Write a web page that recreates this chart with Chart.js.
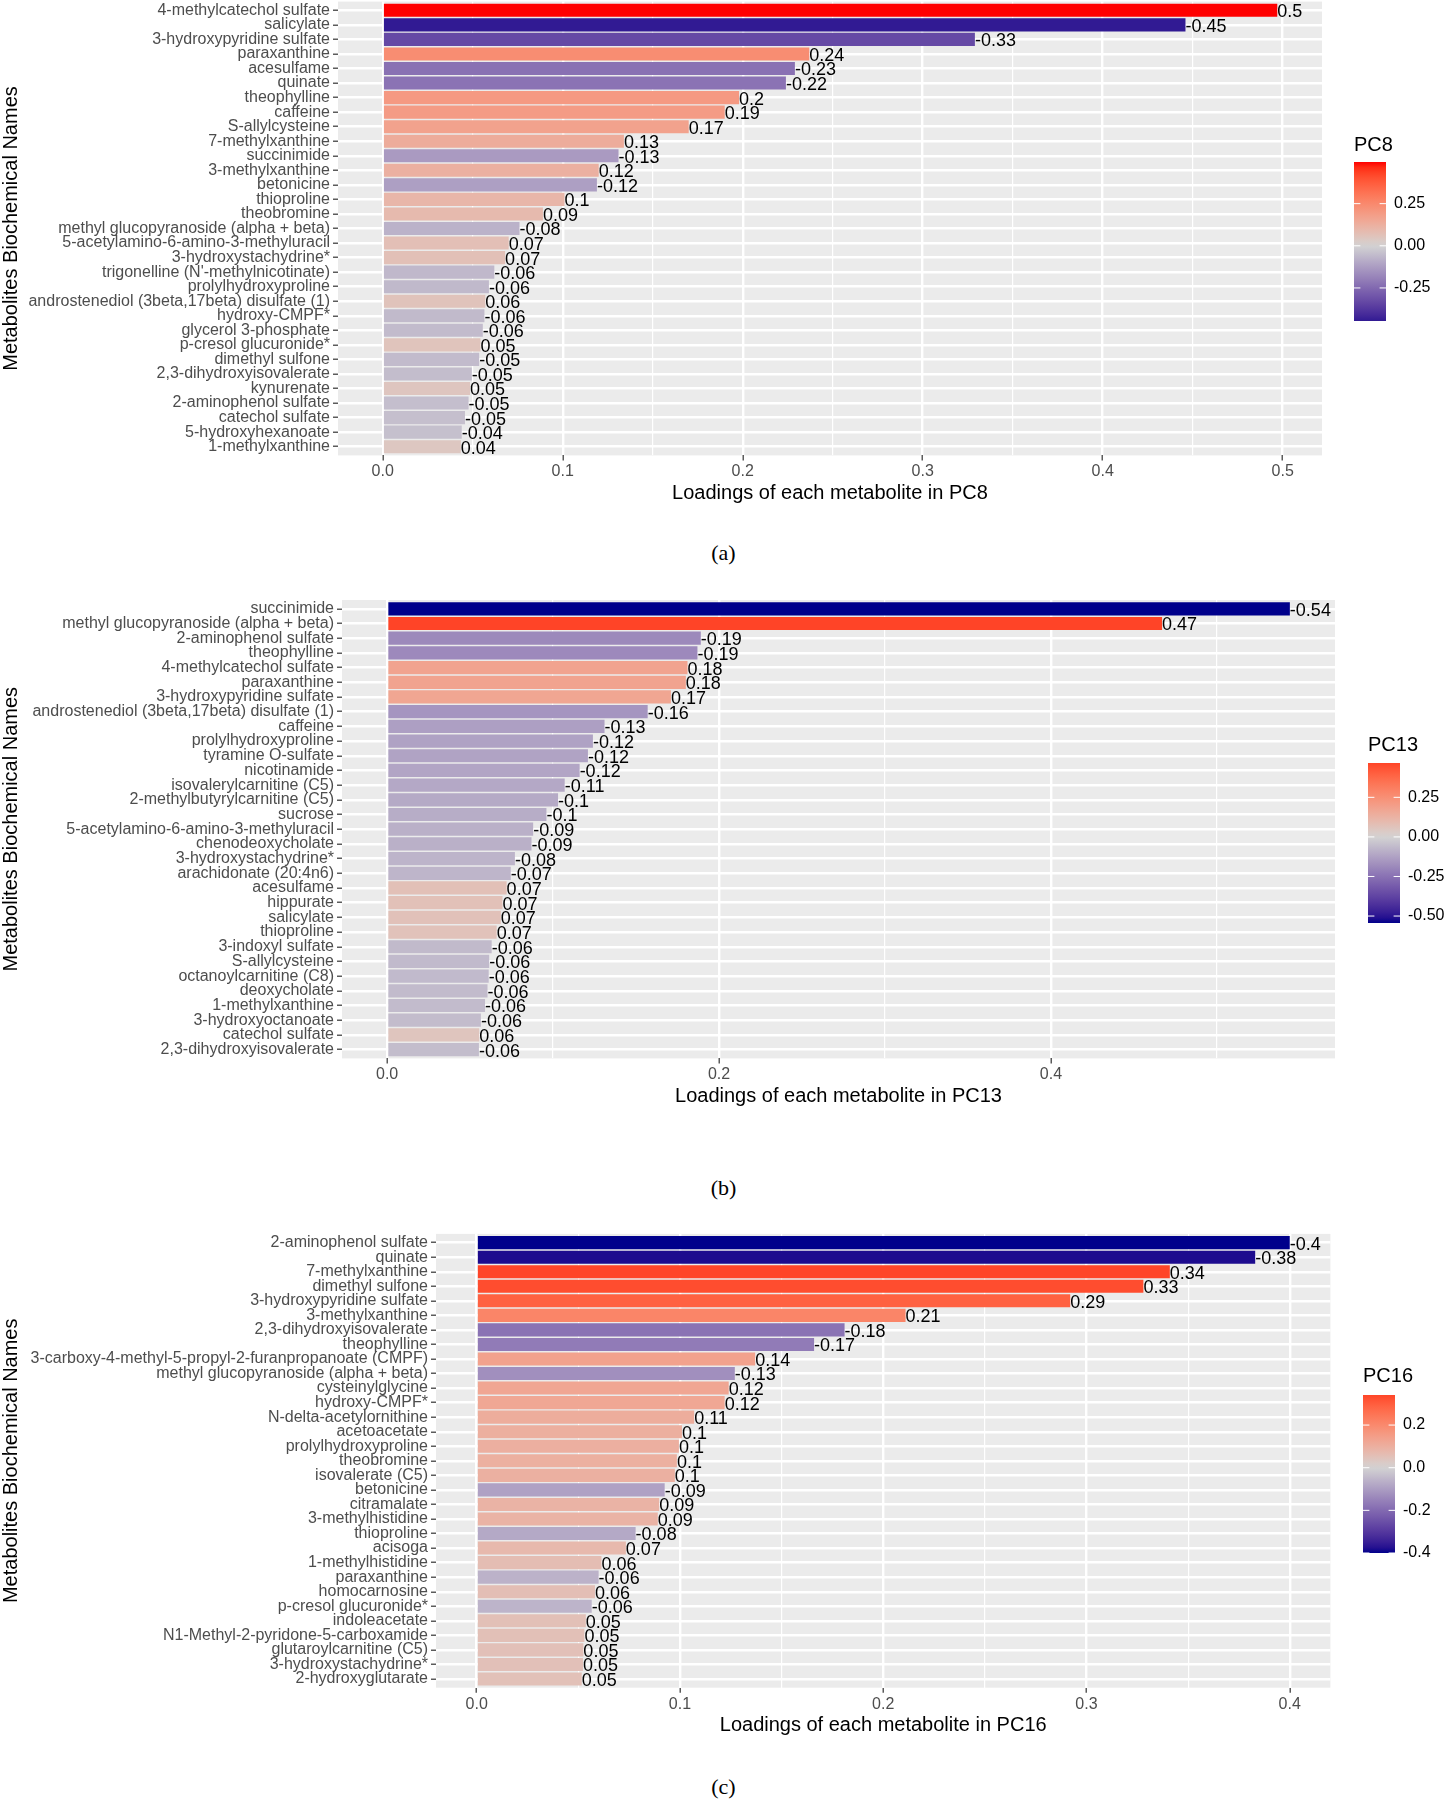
<!DOCTYPE html>
<html>
<head>
<meta charset="utf-8">
<script src="https://cdn.jsdelivr.net/npm/chart.js@4.4.1/dist/chart.umd.min.js"></script>
<style>
  body { margin: 0; background: #fff; width: 1447px; height: 1800px; position: relative; overflow: hidden; }
  canvas { position: absolute; left: 0; }
  .cap { position: absolute; left: 0; width: 1447px; text-align: center; font: 22px "Liberation Serif", "Times New Roman", serif; color: #000; }
</style>
</head>
<body>
<canvas id="pc8"></canvas>
<canvas id="pc13"></canvas>
<canvas id="pc16"></canvas>
<div class="cap" style="top:540px">(a)</div>
<div class="cap" style="top:1175px">(b)</div>
<div class="cap" style="top:1774px">(c)</div>
<script>
// PC8 loadings (signed), sorted by absolute value
const names8 = ["4-methylcatechol sulfate", "salicylate", "3-hydroxypyridine sulfate", "paraxanthine", "acesulfame",
  "quinate", "theophylline", "caffeine", "S-allylcysteine", "7-methylxanthine", "succinimide", "3-methylxanthine",
  "betonicine", "thioproline", "theobromine", "methyl glucopyranoside (alpha + beta)",
  "5-acetylamino-6-amino-3-methyluracil", "3-hydroxystachydrine*", "trigonelline (N'-methylnicotinate)",
  "prolylhydroxyproline", "androstenediol (3beta,17beta) disulfate (1)", "hydroxy-CMPF*", "glycerol 3-phosphate",
  "p-cresol glucuronide*", "dimethyl sulfone", "2,3-dihydroxyisovalerate", "kynurenate", "2-aminophenol sulfate",
  "catechol sulfate", "5-hydroxyhexanoate", "1-methylxanthine"];
const load8 = [0.497, -0.446, -0.329, 0.237, -0.229, -0.224, 0.198, 0.190, 0.170, 0.134, -0.131, 0.120,
  -0.119, 0.101, 0.089, -0.076, 0.070, 0.068, -0.062, -0.059, 0.057, -0.0565, -0.0556, 0.0543, -0.0536,
  -0.0495, 0.0485, -0.0477, -0.0457, -0.0439, 0.0434];
const ticks8 = [0, 0.1, 0.2, 0.3, 0.4, 0.5];
const legend8 = [0.25, 0, -0.25];

// PC13
const names13 = ["succinimide", "methyl glucopyranoside (alpha + beta)", "2-aminophenol sulfate", "theophylline",
  "4-methylcatechol sulfate", "paraxanthine", "3-hydroxypyridine sulfate", "androstenediol (3beta,17beta) disulfate (1)",
  "caffeine", "prolylhydroxyproline", "tyramine O-sulfate", "nicotinamide", "isovalerylcarnitine (C5)",
  "2-methylbutyrylcarnitine (C5)", "sucrose", "5-acetylamino-6-amino-3-methyluracil", "chenodeoxycholate",
  "3-hydroxystachydrine*", "arachidonate (20:4n6)", "acesulfame", "hippurate", "salicylate", "thioproline",
  "3-indoxyl sulfate", "S-allylcysteine", "octanoylcarnitine (C8)", "deoxycholate", "1-methylxanthine",
  "3-hydroxyoctanoate", "catechol sulfate", "2,3-dihydroxyisovalerate"];
const load13 = [-0.544, 0.467, -0.189, -0.187, 0.181, 0.180, 0.171, -0.157, -0.131, -0.124, -0.121, -0.116,
  -0.107, -0.103, -0.096, -0.088, -0.087, -0.077, -0.0745, 0.072, 0.0695, 0.0685, 0.066, -0.063, -0.0615,
  -0.0612, -0.0605, -0.059, -0.0565, 0.0555, -0.0553];
const ticks13 = [0, 0.2, 0.4];
const legend13 = [0.25, 0, -0.25, -0.5];

// PC16
const names16 = ["2-aminophenol sulfate", "quinate", "7-methylxanthine", "dimethyl sulfone", "3-hydroxypyridine sulfate",
  "3-methylxanthine", "2,3-dihydroxyisovalerate", "theophylline", "3-carboxy-4-methyl-5-propyl-2-furanpropanoate (CMPF)",
  "methyl glucopyranoside (alpha + beta)", "cysteinylglycine", "hydroxy-CMPF*", "N-delta-acetylornithine",
  "acetoacetate", "prolylhydroxyproline", "theobromine", "isovalerate (C5)", "betonicine", "citramalate",
  "3-methylhistidine", "thioproline", "acisoga", "1-methylhistidine", "paraxanthine", "homocarnosine",
  "p-cresol glucuronide*", "indoleacetate", "N1-Methyl-2-pyridone-5-carboxamide", "glutaroylcarnitine (C5)",
  "3-hydroxystachydrine*", "2-hydroxyglutarate"];
const load16 = [-0.4, -0.383, 0.341, 0.328, 0.292, 0.211, -0.181, -0.166, 0.137, -0.127, 0.124, 0.122, 0.107,
  0.101, 0.0995, 0.0985, 0.0975, -0.0925, 0.0898, 0.0891, -0.0782, 0.0734, 0.0614, -0.060, 0.0582, -0.0566,
  0.0537, 0.053, 0.0525, 0.0523, 0.0517];
const ticks16 = [0, 0.1, 0.2, 0.3, 0.4];
const legend16 = [0.2, 0, -0.2, -0.4];

const FONT = '"Liberation Sans", Arial, sans-serif';
const lowCol = "#00008B", midCol = "#D3D3D3", highCol = "#FF0000";

// gradient2 style colours, mixed in Lab like ggplot does
function toLab(hex) {
  const c = [1, 3, 5].map(i => parseInt(hex.slice(i, i + 2), 16) / 255)
    .map(v => v <= 0.04045 ? v / 12.92 : Math.pow((v + 0.055) / 1.055, 2.4));
  const x = (c[0] * 0.4124 + c[1] * 0.3576 + c[2] * 0.1805) / 0.95047;
  const y = c[0] * 0.2126 + c[1] * 0.7152 + c[2] * 0.0722;
  const z = (c[0] * 0.0193 + c[1] * 0.1192 + c[2] * 0.9505) / 1.08883;
  const f = t => t > 0.008856 ? Math.cbrt(t) : 7.787 * t + 16 / 116;
  return [116 * f(y) - 16, 500 * (f(x) - f(y)), 200 * (f(y) - f(z))];
}
function fromLab(lab) {
  const fy = (lab[0] + 16) / 116, fx = fy + lab[1] / 500, fz = fy - lab[2] / 200;
  const inv = t => t * t * t > 0.008856 ? t * t * t : (t - 16 / 116) / 7.787;
  const x = inv(fx) * 0.95047, y = inv(fy), z = inv(fz) * 1.08883;
  const lin = [x * 3.2406 - y * 1.5372 - z * 0.4986, -x * 0.9689 + y * 1.8758 + z * 0.0415, x * 0.0557 - y * 0.2040 + z * 1.0570];
  return "rgb(" + lin.map(v => {
    v = v <= 0.0031308 ? 12.92 * v : 1.055 * Math.pow(v, 1 / 2.4) - 0.055;
    return Math.round(Math.min(1, Math.max(0, v)) * 255);
  }).join(",") + ")";
}
const labLow = toLab(lowCol), labMid = toLab(midCol), labHigh = toLab(highCol);
function fillFor(v, maxAbs) {
  const t = v / (2 * maxAbs) + 0.5;
  const a = t < 0.5 ? labLow : labMid, b = t < 0.5 ? labMid : labHigh;
  const k = t < 0.5 ? t / 0.5 : (t - 0.5) / 0.5;
  return fromLab(a.map((c, j) => c + (b[j] - c) * k));
}
const fmt = v => String(Math.round(v * 100) / 100);

function makePanel(id, o) {
  const canvas = document.getElementById(id);
  canvas.width = 1447;
  canvas.height = o.height;
  canvas.style.top = o.top + "px";

  const n = o.names.length;
  const maxAbs = Math.max(...o.values.map(Math.abs));
  const vmin = Math.min(...o.values), vmax = Math.max(...o.values);
  const xmin = -0.05 * maxAbs, xmax = 1.05 * maxAbs;
  const step = o.ticks[1] - o.ticks[0];
  const isMajor = v => o.ticks.some(t => Math.abs(t - v) < 1e-9);
  let xticks = [];
  for (let v = o.ticks[0] - step / 2; v <= xmax; v += step / 2) {
    if (v >= xmin) xticks.push(Math.round(v * 1e6) / 1e6);
  }

  const decor = {
    id: "decor",
    beforeDraw(chart) {
      const a = chart.chartArea, ctx = chart.ctx;
      ctx.save();
      ctx.fillStyle = "#EBEBEB";
      ctx.fillRect(a.left, a.top, a.right - a.left, a.bottom - a.top);
      ctx.restore();
    },
    afterDatasetsDraw(chart) {
      const ctx = chart.ctx;
      ctx.save();
      ctx.font = "18px " + FONT;
      ctx.fillStyle = "#000";
      ctx.textAlign = "left";
      ctx.textBaseline = "middle";
      chart.getDatasetMeta(0).data.forEach((bar, i) => ctx.fillText(fmt(o.values[i]), bar.x, bar.y + 2));
      ctx.restore();
    },
    afterDraw(chart) {
      // colourbar legend
      const ctx = chart.ctx, L = o.legend;
      const top = L.top - o.top, bot = L.bottom - o.top, h = bot - top;
      ctx.save();
      ctx.font = "20px " + FONT;
      ctx.fillStyle = "#000";
      ctx.textBaseline = "middle";
      ctx.fillText(o.pc, L.x, L.titleY - o.top);
      const g = ctx.createLinearGradient(0, top, 0, bot);
      for (let k = 0; k <= 30; k++) {
        g.addColorStop(k / 30, fillFor(vmax - (vmax - vmin) * k / 30, maxAbs));
      }
      ctx.fillStyle = g;
      ctx.fillRect(L.x, top, L.w, h);
      ctx.font = "16px " + FONT;
      ctx.strokeStyle = "#fff";
      ctx.lineWidth = 1;
      o.breaks.forEach(b => {
        const y = top + (vmax - b) / (vmax - vmin) * h;
        ctx.beginPath();
        ctx.moveTo(L.x, y); ctx.lineTo(L.x + L.w / 5, y);
        ctx.moveTo(L.x + L.w * 4 / 5, y); ctx.lineTo(L.x + L.w, y);
        ctx.stroke();
        ctx.fillStyle = "#000";
        ctx.fillText(b.toFixed(o.dec), L.x + L.w + 8, y);
      });
      ctx.restore();
    }
  };

  new Chart(canvas, {
    type: "bar",
    data: {
      datasets: [{
        data: o.values.map((v, i) => ({ x: Math.abs(v), y: i })),
        backgroundColor: o.values.map(v => fillFor(v, maxAbs)),
        barPercentage: 0.9,
        categoryPercentage: 1
      }]
    },
    options: {
      indexAxis: "y",
      responsive: false,
      animation: false,
      layout: {
        padding: { left: 0, right: 1447 - o.area.right, top: o.area.top - o.top, bottom: o.top + o.height - o.area.bottom - 50 }
      },
      plugins: { legend: { display: false }, tooltip: { enabled: false } },
      scales: {
        x: {
          type: "linear",
          min: xmin,
          max: xmax,
          afterBuildTicks: s => { s.ticks = xticks.map(v => ({ value: v })); },
          afterFit: s => { s.height = 50; s.paddingLeft = 0; s.paddingRight = 0; },
          border: { display: false },
          grid: {
            color: "#fff",
            lineWidth: c => isMajor(c.tick.value) ? 2.4 : 1.2,
            tickColor: c => isMajor(c.tick.value) ? "#333" : "rgba(0,0,0,0)",
            tickLength: 5,
            tickWidth: 1.2
          },
          ticks: {
            callback: v => isMajor(v) ? v.toFixed(1) : "",
            color: "#4D4D4D",
            font: { size: 16, family: FONT },
            padding: 2,
            autoSkip: false,
            maxRotation: 0
          },
          title: { display: true, text: "Loadings of each metabolite in " + o.pc, color: "#000", font: { size: 20, family: FONT }, padding: 0 }
        },
        y: {
          type: "linear",
          offset: false,
          min: -0.6,
          max: n - 0.4,
          reverse: true,
          afterBuildTicks: s => { s.ticks = o.names.map((_, i) => ({ value: i })); },
          afterFit: s => { s.width = o.area.left; s.paddingTop = 0; s.paddingBottom = 0; },
          border: { display: false },
          grid: { offset: false, color: "#fff", lineWidth: 2.4, tickColor: "#333", tickLength: 5, tickWidth: 1.2 },
          ticks: {
            callback: v => o.names[v],
            color: "#4D4D4D",
            font: { size: 16, family: FONT },
            padding: 3,
            autoSkip: false
          },
          title: {
            display: true, text: "Metabolites Biochemical Names", color: "#000",
            font: { size: 20, family: FONT, lineHeight: 1 }, padding: { top: 1, bottom: 0 }
          }
        }
      }
    },
    plugins: [decor]
  });
}

makePanel("pc8", {
  pc: "PC8", names: names8, values: load8, ticks: ticks8, breaks: legend8, dec: 2,
  top: 0, height: 520,
  area: { left: 338, right: 1322, top: 1.6, bottom: 455.4 },
  legend: { x: 1354, w: 32, titleY: 145, top: 162, bottom: 321 }
});
makePanel("pc13", {
  pc: "PC13", names: names13, values: load13, ticks: ticks13, breaks: legend13, dec: 2,
  top: 575, height: 545,
  area: { left: 342, right: 1335, top: 600, bottom: 1058.4 },
  legend: { x: 1368, w: 32, titleY: 745, top: 763, bottom: 923 }
});
makePanel("pc16", {
  pc: "PC16", names: names16, values: load16, ticks: ticks16, breaks: legend16, dec: 1,
  top: 1212, height: 545,
  area: { left: 436, right: 1330.4, top: 1233.9, bottom: 1687.7 },
  legend: { x: 1363, w: 32, titleY: 1376, top: 1395, bottom: 1553 }
});
</script>
</body>
</html>
